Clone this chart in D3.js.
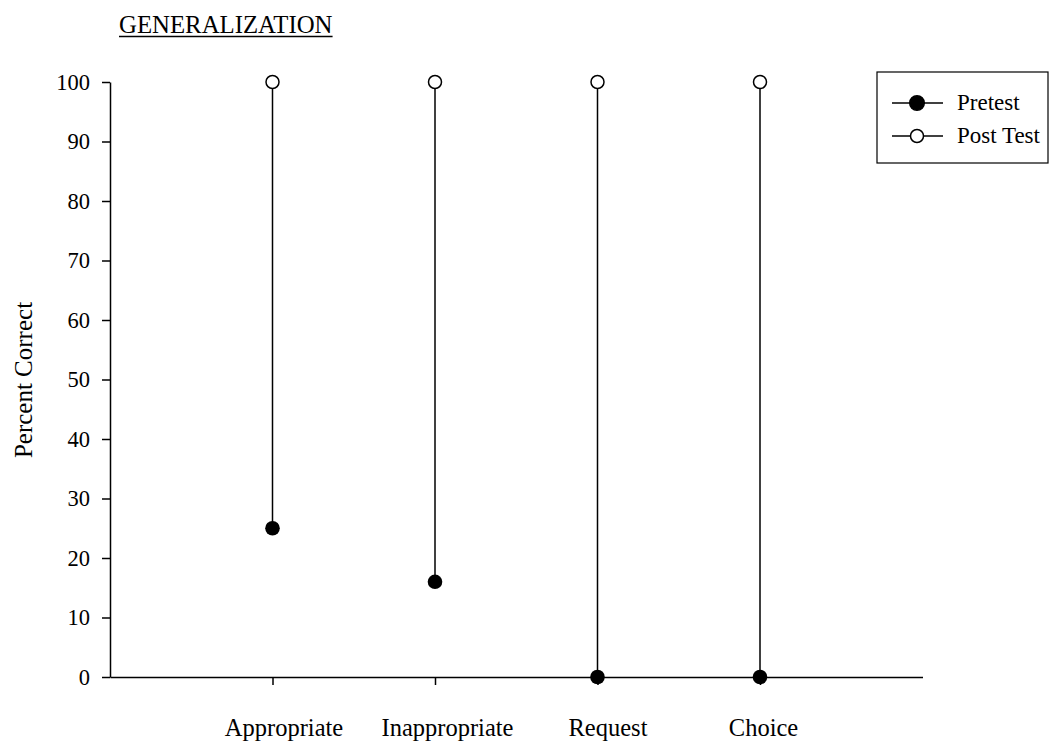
<!DOCTYPE html>
<html><head><meta charset="utf-8">
<script src="https://cdn.jsdelivr.net/npm/d3@7"></script>
<style>body{margin:0;background:#fff}svg{display:block}text{font-family:"Liberation Serif","Times New Roman",serif;fill:#000}</style>
</head><body><div id="chart"></div>
<script>
const categories = ["Appropriate","Inappropriate","Request","Choice"];
const pretest = [25,16,0,0];
const posttest = [100,100,100,100];
const yTicks = [0,10,20,30,40,50,60,70,80,90,100];
const seriesNames = ["Pretest","Post Test"];

// layout: horizontal nudges of category labels as drawn in the reference
const labelNudge = [11,12,10,3];

const W=1051,H=746;
const svg=d3.select("#chart").append("svg").attr("width",W).attr("height",H);
const x=d3.scaleLinear().domain([0,categories.length+1]).range([110,922.5]);
const y=d3.scaleLinear().domain([0,100]).range([677,82]);

// title
const t=svg.append("text").attr("x",119).attr("y",33).attr("font-size",24.8).text("GENERALIZATION");
const bb=t.node().getBBox();
svg.append("line").attr("x1",bb.x).attr("x2",bb.x+bb.width).attr("y1",36.5).attr("y2",36.5).attr("stroke","#000").attr("stroke-width",1.3);

// y axis
const ya=svg.append("g").attr("transform","translate(110,0)")
  .call(d3.axisLeft(y).tickValues(yTicks).tickSize(8).tickPadding(12).tickSizeOuter(0));
ya.select(".domain").attr("stroke-width",1.5);
ya.selectAll(".tick line").attr("stroke-width",1.5);
ya.selectAll("text").attr("font-size",22.5).attr("font-family","Liberation Serif");

// x axis
const xa=svg.append("g").attr("transform","translate(0,677)")
  .call(d3.axisBottom(x).tickValues(categories.map((c,i)=>i+1)).tickFormat(i=>categories[i-1]).tickSize(8).tickPadding(34).tickSizeOuter(0));
xa.select(".domain").attr("stroke-width",1.5);
xa.selectAll(".tick line").attr("stroke-width",1.5);
xa.selectAll("text").attr("font-size",24.5).attr("font-family","Liberation Serif")
  .attr("dx",(d,i)=>labelNudge[i]);

// y title
svg.append("text").attr("transform","translate(32,380) rotate(-90)").attr("text-anchor","middle").attr("font-size",25).text("Percent Correct");

// stems
svg.selectAll(".stem").data(categories).enter().append("line")
  .attr("x1",(d,i)=>x(i+1)).attr("x2",(d,i)=>x(i+1))
  .attr("y1",(d,i)=>y(pretest[i])).attr("y2",(d,i)=>y(posttest[i]))
  .attr("stroke","#000").attr("stroke-width",1.5);
svg.selectAll(".pre").data(pretest).enter().append("circle")
  .attr("cx",(d,i)=>x(i+1)).attr("cy",d=>y(d)).attr("r",7.3).attr("fill","#000");
svg.selectAll(".post").data(posttest).enter().append("circle")
  .attr("cx",(d,i)=>x(i+1)).attr("cy",d=>y(d)).attr("r",6.5).attr("fill","#fff").attr("stroke","#000").attr("stroke-width",1.5);

// legend
const lg=svg.append("g");
lg.append("rect").attr("x",877).attr("y",72).attr("width",171).attr("height",91).attr("fill","#fff").attr("stroke","#000").attr("stroke-width",1.2);
seriesNames.forEach((n,i)=>{
  const yy=[103,136][i];
  lg.append("line").attr("x1",892).attr("x2",943).attr("y1",yy).attr("y2",yy).attr("stroke","#000").attr("stroke-width",1.5);
  lg.append("circle").attr("cx",917).attr("cy",yy).attr("r",i===0?7.3:6.5).attr("fill",i===0?"#000":"#fff").attr("stroke","#000").attr("stroke-width",1.5);
  lg.append("text").attr("x",957).attr("y",yy+7).attr("font-size",23).text(n);
});
</script></body></html>
